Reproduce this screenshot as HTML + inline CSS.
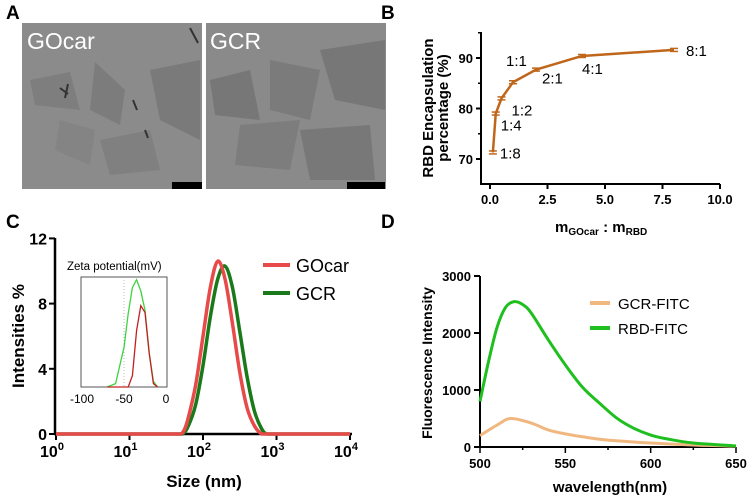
<!DOCTYPE html>
<html><head><meta charset="utf-8"><style>
body{margin:0;background:#fff}
svg{display:block;font-family:"Liberation Sans",Arial,sans-serif}
.b{font-weight:bold}
</style></head><body>
<svg id="s" width="751" height="498" viewBox="0 0 751 498" xmlns="http://www.w3.org/2000/svg">
<text x="6" y="19" font-size="19" class="b">A</text>
<text x="381" y="19" font-size="19" class="b">B</text>
<text x="6" y="228" font-size="19" class="b">C</text>
<text x="381" y="228" font-size="19" class="b">D</text>

<g>
<rect x="22" y="23" width="180" height="166" fill="#8b8b8b"/>
<polygon points="30,80 70,72 80,110 35,105" fill="#7e7e7e"/>
<polygon points="95,62 125,90 120,125 90,110" fill="#7c7c7c"/>
<polygon points="150,70 200,60 200,140 160,120" fill="#7a7a7a"/>
<polygon points="100,140 150,130 160,170 110,175" fill="#808080"/>
<polygon points="60,120 95,130 90,165 55,150" fill="#848484"/>
<path d="M60,88 l8,6 M68,84 l-3,14 M133,100 l4,10 M145,130 l3,8 M190,28 l8,15" stroke="#333" stroke-width="2"/>
<rect x="172" y="182" width="30" height="7" fill="#000"/>
<text x="27" y="49" font-size="23" fill="#fff">GOcar</text>
</g>
<g>
<rect x="206" y="23" width="180" height="166" fill="#8a8a8a"/>
<polygon points="210,80 250,70 260,120 215,115" fill="#777"/>
<polygon points="270,60 320,70 310,120 270,110" fill="#7b7b7b"/>
<polygon points="320,50 385,40 385,110 335,100" fill="#777"/>
<polygon points="240,125 300,120 290,170 235,165" fill="#7d7d7d"/>
<polygon points="300,130 370,125 375,180 310,180" fill="#787878"/>
<rect x="347" y="182" width="38" height="7" fill="#000"/>
<text x="210" y="49" font-size="23" fill="#fff">GCR</text>
</g>

<g id="pB"></g>
<g id="pC"></g>
<g id="pD"></g>
</svg>
<script>
// Panel B data
const bRatio=[0.125,0.25,0.5,1,2,4,8];
const bPct=[71.3,79,82,85.2,87.7,90.4,91.6];
const bLabels=["1:8","1:4","1:2","1:1","2:1","4:1","8:1"];
const bXTicks=[0,2.5,5,7.5,10];
const bYTicks=[70,80,90];
// Panel C data (log10 size)
const cLogSizeA=[0,1,1.6,1.7,1.75,1.8,1.9,2.0,2.1,2.2,2.3,2.4,2.5,2.6,2.7,2.8,2.9,3,4];
const cGOcar=[0,0,0,0,0.3,1.0,3.0,6.0,9.0,10.6,9.5,6.8,3.8,1.6,0.5,0,0,0,0];
const cLogSizeB=[0,1,1.6,1.72,1.8,1.9,2.0,2.1,2.2,2.3,2.4,2.5,2.6,2.7,2.8,2.87,2.95,3,4];
const cGCR=[0,0,0,0,0.5,1.8,4.2,7.2,9.5,10.3,9.0,6.3,3.5,1.4,0.3,0,0,0,0];
const cYTicks=[0,4,8,12];
const cXTicksExp=[0,1,2,3,4];
// Inset zeta data
const zMv=[-70,-60,-50,-45,-40,-35,-30,-25,-20,-15,-10];
const zGCR=[0,0.3,3.5,6.5,8.8,9.5,8.5,6.8,3,0.5,0];
const zGOcar=[0,0,0,0,1,5,7.2,6.6,3,0.3,0];
// Panel D data
const dWl=[500,505,510,515,520,525,530,540,550,560,570,580,590,600,610,625,650];
const dRBD=[800,1500,2100,2450,2550,2500,2350,1880,1440,1050,770,510,330,210,140,70,20];
const dWl2=[500,510,518,530,540,550,560,575,600,625,650];
const dGCR=[200,385,500,420,300,230,180,120,70,35,15];
const dYTicks=[0,1000,2000,3000];
const dXTicks=[500,550,600,650];

const NS="http://www.w3.org/2000/svg";
function mk(p,tag,attrs,txt){const e=document.createElementNS(NS,tag);for(const k in attrs)e.setAttribute(k,attrs[k]);if(txt!==undefined)e.textContent=txt;p.appendChild(e);return e;}
function spline(pts,maxY){let d="M"+pts[0][0]+","+pts[0][1];for(let i=0;i<pts.length-1;i++){const p0=pts[Math.max(0,i-1)],p1=pts[i],p2=pts[i+1],p3=pts[Math.min(pts.length-1,i+2)];let c1=[p1[0]+(p2[0]-p0[0])/6,p1[1]+(p2[1]-p0[1])/6],c2=[p2[0]-(p3[0]-p1[0])/6,p2[1]-(p3[1]-p1[1])/6];if(maxY!==undefined){c1[1]=Math.min(c1[1],maxY);c2[1]=Math.min(c2[1],maxY);}d+=" C"+c1[0]+","+c1[1]+" "+c2[0]+","+c2[1]+" "+p2[0]+","+p2[1];}return d;}

// ---- Panel B ----
(function(){
const g=document.getElementById('pB');
const X=v=>490+v*23, Y=v=>159-(v-70)*5.05;
let e;
e=mk(g,'path',{d:"M481,32 V184 H720",fill:"none",stroke:"#000","stroke-width":2});

bYTicks.forEach(t=>{mk(g,'line',{x1:476,x2:481,y1:Y(t),y2:Y(t),stroke:"#000","stroke-width":2});
 e=mk(g,'text',{x:473,y:Y(t)+5,"text-anchor":"end","font-size":13,"font-weight":"bold"},t);
 });
[75,85,95].forEach(t=>mk(g,'line',{x1:478,x2:481,y1:Y(t),y2:Y(t),stroke:"#000","stroke-width":1.5}));
bXTicks.forEach(t=>{mk(g,'line',{x1:X(t),x2:X(t),y1:184,y2:189,stroke:"#000","stroke-width":2});
 e=mk(g,'text',{x:X(t),y:204,"text-anchor":"middle","font-size":13,"font-weight":"bold"},t.toFixed(1));
 });
e=mk(g,'polyline',{points:bRatio.map((r,i)=>X(r)+","+Y(bPct[i])).join(" "),fill:"none",stroke:"#c0661a","stroke-width":2.5});

const off=[[7,6],[5,17],[10,17],[-7,-16],[6,14],[0,-6],[12,6]];
bRatio.forEach((r,i)=>{
 mk(g,'line',{x1:X(r)-4,x2:X(r)+4,y1:Y(bPct[i])-1.5,y2:Y(bPct[i])-1.5,stroke:"#c0661a","stroke-width":1.5});
 mk(g,'line',{x1:X(r)-4,x2:X(r)+4,y1:Y(bPct[i])+1.5,y2:Y(bPct[i])+1.5,stroke:"#c0661a","stroke-width":1.5});
 e=mk(g,'text',{x:X(r)+off[i][0],y:Y(bPct[i])+off[i][1]+(i==5?24:0),"font-size":15},bLabels[i]);
 });
e=mk(g,'text',{transform:"translate(433,108) rotate(-90)","text-anchor":"middle","font-size":15,"font-weight":"bold"},"RBD Encapsulation");

mk(g,'text',{transform:"translate(448,108) rotate(-90)","text-anchor":"middle","font-size":15,"font-weight":"bold"},"percentage (%)");
e=mk(g,'text',{x:555,y:232,"font-size":15,"font-weight":"bold"});

e.innerHTML='m<tspan font-size="10" dy="3">GOcar</tspan><tspan dy="-3"> : m</tspan><tspan font-size="10" dy="3">RBD</tspan>';
})();

// ---- Panel C ----
(function(){
const g=document.getElementById('pC');
const X=v=>56+v*73.5, Y=v=>434-v*16.3;
let e;
e=mk(g,'path',{d:"M55,238 V434 H352",fill:"none",stroke:"#000","stroke-width":2.5});

cYTicks.forEach(t=>{mk(g,'line',{x1:49,x2:55,y1:Y(t),y2:Y(t),stroke:"#000","stroke-width":2});
 e=mk(g,'text',{x:47,y:Y(t)+6,"text-anchor":"end","font-size":16,"font-weight":"bold"},t);
 });
cXTicksExp.forEach(t=>{mk(g,'line',{x1:X(t),x2:X(t),y1:434,y2:440,stroke:"#000","stroke-width":2});
 e=mk(g,'text',{x:X(t)-4,y:457,"text-anchor":"middle","font-size":16,"font-weight":"bold"});
 e.innerHTML='10<tspan font-size="11" dy="-7">'+t+'</tspan>';
 });
e=mk(g,'path',{d:spline(cLogSizeB.map((v,i)=>[X(v),Y(cGCR[i])]),434),fill:"none",stroke:"#1a7a1a","stroke-width":3.5});

e=mk(g,'path',{d:spline(cLogSizeA.map((v,i)=>[X(v),Y(cGOcar[i])]),434),fill:"none",stroke:"#e84a4a","stroke-width":3.5});

e=mk(g,'text',{x:204,y:487,"text-anchor":"middle","font-size":17,"font-weight":"bold"},"Size (nm)");

e=mk(g,'text',{transform:"translate(24,336) rotate(-90)","text-anchor":"middle","font-size":17,"font-weight":"bold"},"Intensities %");

[["GOcar","#e84a4a",265],["GCR","#1a7a1a",293]].forEach(l=>{
 e=mk(g,'line',{x1:263,x2:290,y1:l[2],y2:l[2],stroke:l[1],"stroke-width":4});
 
 e=mk(g,'text',{x:296,y:l[2]+7,"font-size":18},l[0]);
 });
const IX=v=>166+v*0.84, IY=v=>387-v*11.3;
e=mk(g,'rect',{x:81,y:277,width:86,height:110,fill:"#fff",stroke:"#555","stroke-width":1});

mk(g,'line',{x1:IX(-50),x2:IX(-50),y1:277,y2:387,stroke:"#aaa","stroke-width":0.8,"stroke-dasharray":"1 2"});
e=mk(g,'text',{x:67,y:270,"font-size":11.5},"Zeta potential(mV)");

[-100,-50,0].forEach(t=>{e=mk(g,'text',{x:IX(t),y:403,"text-anchor":"middle","font-size":12},t);
 });
e=mk(g,'polyline',{points:zMv.map((v,i)=>IX(v)+","+IY(zGCR[i])).join(" "),fill:"none",stroke:"#3fd23f","stroke-width":1.3});

e=mk(g,'polyline',{points:zMv.map((v,i)=>IX(v)+","+IY(zGOcar[i])).join(" "),fill:"none",stroke:"#c02020","stroke-width":1.3});

})();

// ---- Panel D ----
(function(){
const g=document.getElementById('pD');
const X=v=>480+(v-500)*256/150, Y=v=>447-v*0.057;
let e;
e=mk(g,'path',{d:"M480,276 V447 H736",fill:"none",stroke:"#000","stroke-width":2});

dYTicks.forEach(t=>{mk(g,'line',{x1:474,x2:480,y1:Y(t),y2:Y(t),stroke:"#000","stroke-width":2});
 e=mk(g,'text',{x:471,y:Y(t)+5,"text-anchor":"end","font-size":13,"font-weight":"bold"},t);
 });
[500,525,550,575,600,625,650].forEach(t=>mk(g,'line',{x1:X(t),x2:X(t),y1:447,y2:t%50?450:453,stroke:"#000","stroke-width":1.5}));
dXTicks.forEach(t=>{e=mk(g,'text',{x:X(t),y:468,"text-anchor":"middle","font-size":13,"font-weight":"bold"},t);
 });
e=mk(g,'path',{d:spline(dWl2.map((v,i)=>[X(v),Y(dGCR[i])])),fill:"none",stroke:"#f0b880","stroke-width":3});

e=mk(g,'path',{d:spline(dWl.map((v,i)=>[X(v),Y(dRBD[i])])),fill:"none",stroke:"#1fbf1f","stroke-width":3});

e=mk(g,'text',{x:610,y:492,"text-anchor":"middle","font-size":15,"font-weight":"bold"},"wavelength(nm)");

e=mk(g,'text',{transform:"translate(432,363) rotate(-90)","text-anchor":"middle","font-size":14,"font-weight":"bold"},"Fluorescence Intensity");

[["GCR-FITC","#f0b880",303],["RBD-FITC","#1fbf1f",328]].forEach(l=>{
 e=mk(g,'line',{x1:590,x2:610,y1:l[2],y2:l[2],stroke:l[1],"stroke-width":4});
 
 e=mk(g,'text',{x:618,y:l[2]+6,"font-size":15},l[0]);
 });
})();
</script>
</body></html>
